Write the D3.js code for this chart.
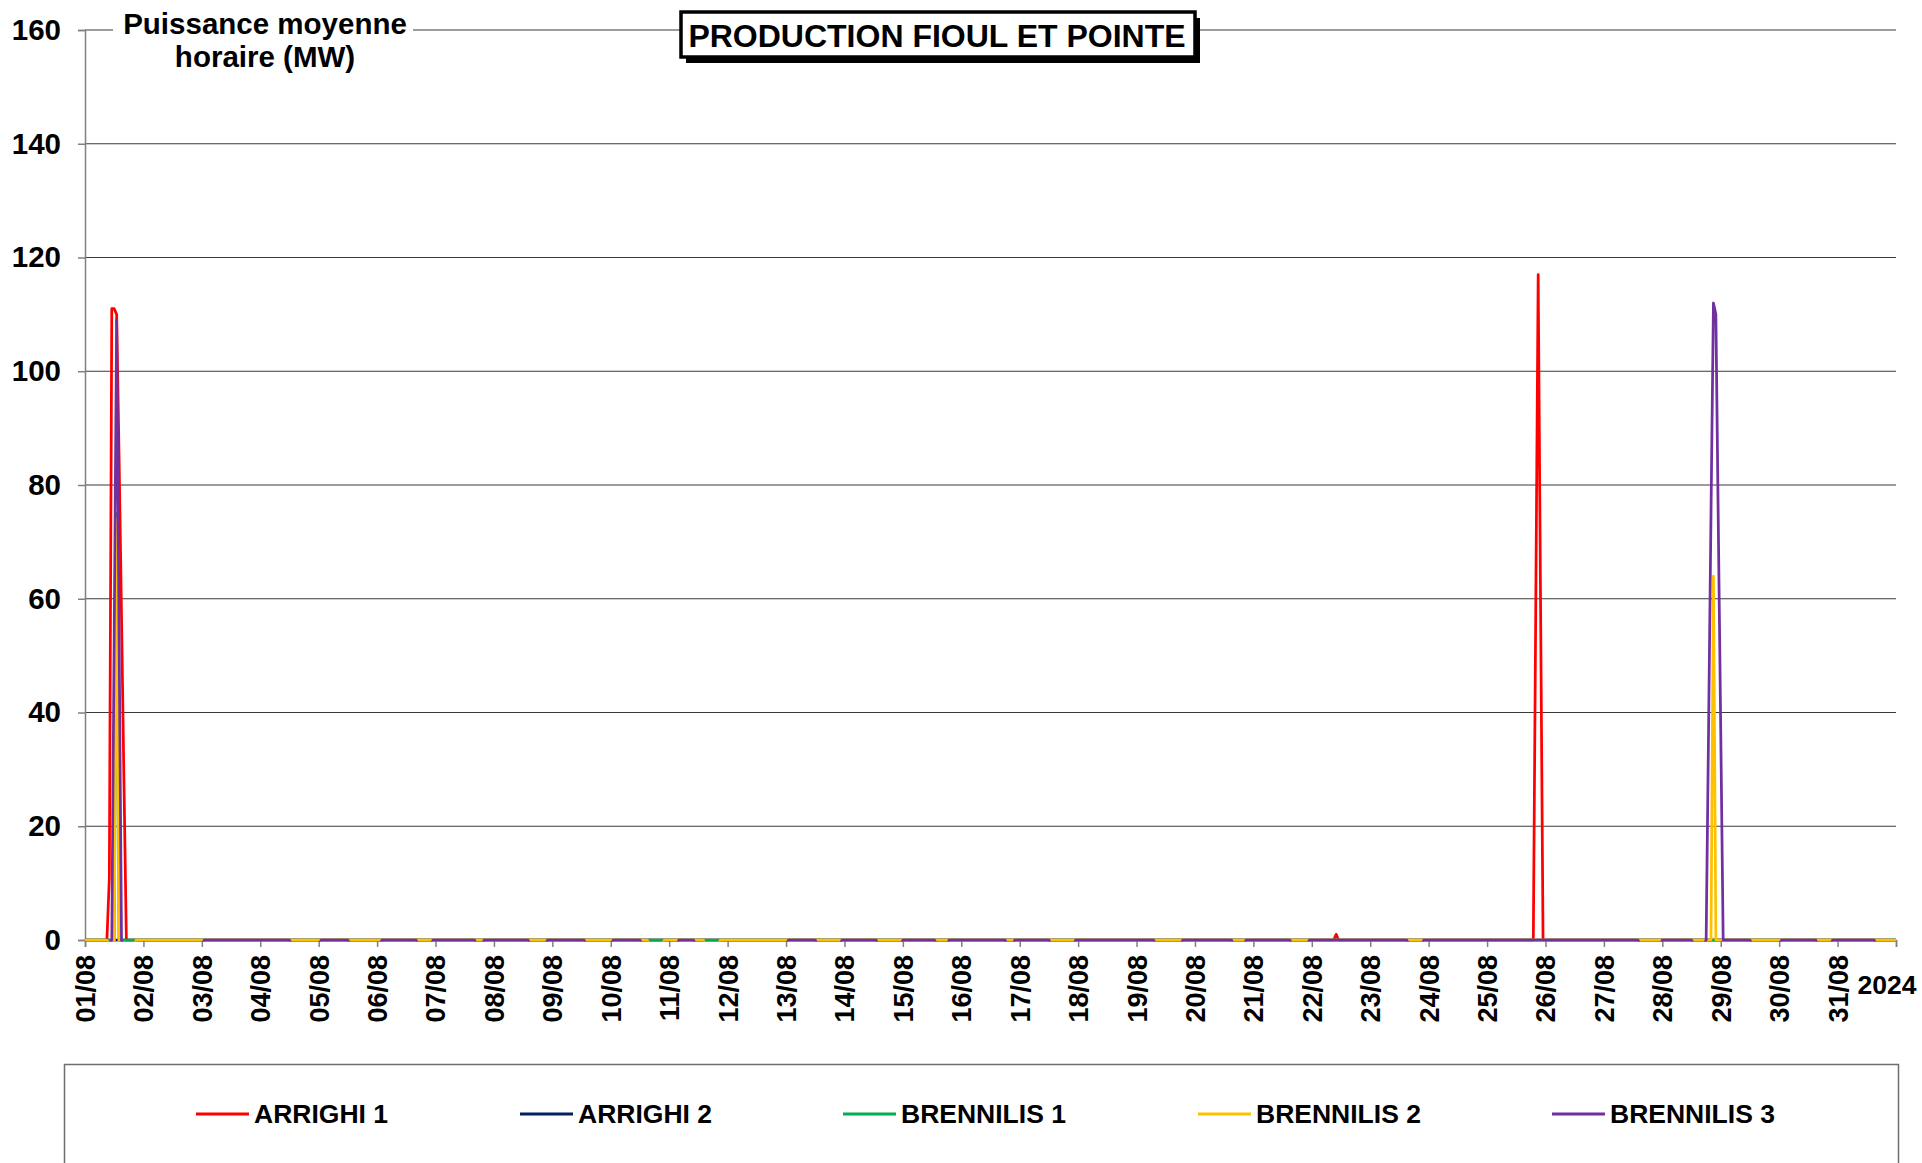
<!DOCTYPE html>
<html>
<head>
<meta charset="utf-8">
<script src="https://cdn.jsdelivr.net/npm/d3@7"></script>
<style>
  html, body { margin: 0; padding: 0; background: #fff; }
  svg { display: block; font-family: "Liberation Sans", Arial, sans-serif; font-weight: bold; }
</style>
</head>
<body>
<svg id="chart" width="1922" height="1163"></svg>
<script>
// ---- Data: hourly mean power (MW), August 2024; hour 0 = 01/08 00:00 ----
const dayLabels = ["01/08","02/08","03/08","04/08","05/08","06/08","07/08","08/08","09/08","10/08",
  "11/08","12/08","13/08","14/08","15/08","16/08","17/08","18/08","19/08","20/08",
  "21/08","22/08","23/08","24/08","25/08","26/08","27/08","28/08","29/08","30/08","31/08"];
const yearLabel = "2024";
const yTicks = [0, 20, 40, 60, 80, 100, 120, 140, 160];
const seriesNames = ["ARRIGHI 1", "ARRIGHI 2", "BRENNILIS 1", "BRENNILIS 2", "BRENNILIS 3"];
const seriesColors = ["#FF0000", "#002060", "#00B050", "#FFC000", "#7030A0"];

// [hour, MW] break points; the value holds between consecutive points
const arrighi1 = [[0,0],[9,0],[10,11],[11,111],[12,111],[13,110],[14,85],[15,57],[16,28],[17,0],
  [513,0],[514,1],[515,0],[595,0],[596,58],[597,117],[598,58],[599,0],[744,0]];
const arrighi2 = [[0,0],[744,0]];
const brennilis1 = [[0,0],[10,0],[11,-1],[12,-1],[13,75],[14,-1],[15,0],[744,0]];
const brennilis2 = [[0,0],[9,0],[10,-1],[12,-1],[13,74],[14,-1],[20,-1],[21,0],
  [231,0],[232,-1],[237,-1],[238,0],[254,0],[255,-1],[260,-1],[261,0],
  [668,0],[669,64],[670,0],[744,0]];
const brennilis3 = [[0,-1],[10,-1],[11,0],[12,54],[13,109],[14,54],[15,0],[16,-1],
  [48,-1],[49,0],[84,0],[85,-1],[96,-1],[97,0],[108,0],[109,-1],
  [121,-1],[122,0],[136,0],[137,-1],[142,-1],[143,0],[160,0],[161,-1],
  [163,-1],[164,0],[182,0],[183,-1],[189,-1],[190,0],[205,0],[206,-1],
  [216,-1],[217,0],[228,0],[229,-1],[243,-1],[244,0],[250,0],[251,-1],
  [288,-1],[289,0],[300,0],[301,-1],[310,-1],[311,0],[325,0],[326,-1],
  [335,-1],[336,0],[349,0],[350,-1],[354,-1],[355,0],[378,0],[379,-1],
  [381,-1],[382,0],[396,0],[397,-1],[406,-1],[407,0],[439,0],[440,-1],
  [450,-1],[451,0],[471,0],[472,-1],[476,-1],[477,0],[495,0],[496,-1],
  [502,-1],[503,0],[543,0],[544,-1],[549,-1],[550,0],[638,0],[639,-1],
  [647,-1],[648,0],[660,0],[661,-1],[665,-1],[666,0],[667,37],[668,75],[669,112],[670,110],
  [671,73],[672,37],[673,0],[684,0],[685,-1],[696,-1],[697,0],[711,0],[712,-1],
  [717,-1],[718,0],[735,0],[736,-1],[744,-1]];
const seriesData = [arrighi1, arrighi2, brennilis1, brennilis2, brennilis3];

// ---- Layout ----
const svg = d3.select("#chart");
const plot = { left: 85, right: 1896, top: 30, bottom: 940 };
const totalHours = dayLabels.length * 24;

const x = d3.scaleLinear().domain([0, totalHours]).range([plot.left, plot.right]);
const y = d3.scaleLinear().domain([0, 160]).range([plot.bottom, plot.top]);

svg.append("rect").attr("width", 1922).attr("height", 1163).attr("fill", "#fff");

// horizontal gridlines
svg.append("g")
  .selectAll("line")
  .data(yTicks.filter(v => v > 0))
  .join("line")
  .attr("x1", plot.left).attr("x2", plot.right)
  .attr("y1", d => y(d)).attr("y2", d => y(d))
  .attr("stroke", "#3a3a3a").attr("stroke-width", 1.2);

// y axis
const yAxis = svg.append("g")
  .attr("transform", `translate(${plot.left},0)`)
  .call(d3.axisLeft(y).tickValues(yTicks).tickSize(7).tickPadding(17).tickFormat(d3.format("d")));
yAxis.select(".domain").attr("stroke", "#808080").attr("stroke-width", 1.5);
yAxis.selectAll(".tick line").attr("stroke", "#808080").attr("stroke-width", 1.5);
yAxis.selectAll(".tick text")
  .attr("font-size", 29.5).attr("font-weight", "bold")
  .attr("font-family", "'Liberation Sans', Arial, sans-serif").attr("fill", "#000");

// x axis (day ticks)
const dayTicks = d3.range(0, totalHours + 1, 24);
const xAxis = svg.append("g")
  .attr("transform", `translate(0,${plot.bottom})`)
  .call(d3.axisBottom(x).tickValues(dayTicks).tickSize(7)
    .tickFormat(d => dayLabels[d / 24] || ""));
xAxis.select(".domain").attr("stroke", "#808080").attr("stroke-width", 1.5);
xAxis.selectAll(".tick line").attr("stroke", "#808080").attr("stroke-width", 1.5);
xAxis.selectAll(".tick text")
  .attr("font-size", 27).attr("font-weight", "bold")
  .attr("font-family", "'Liberation Sans', Arial, sans-serif").attr("fill", "#000")
  .attr("text-anchor", "end")
  .attr("transform", "rotate(-90)")
  .attr("x", -15).attr("y", 0).attr("dy", "0.35em");

svg.append("text")
  .attr("x", 1887).attr("y", 994)
  .attr("text-anchor", "middle").attr("font-size", 26.5)
  .text(yearLabel);

// series lines, clipped to the plot area
svg.append("clipPath").attr("id", "plotClip")
  .append("rect")
  .attr("x", plot.left).attr("y", 0)
  .attr("width", plot.right - plot.left + 2).attr("height", plot.bottom + 1.5);

const line = d3.line().x(d => x(d[0])).y(d => y(d[1]));
svg.append("g").attr("clip-path", "url(#plotClip)")
  .selectAll("path")
  .data(seriesData)
  .join("path")
  .attr("d", line)
  .attr("fill", "none")
  .attr("stroke", (d, i) => seriesColors[i])
  .attr("stroke-width", 2.75)
  .attr("stroke-linejoin", "round");

// y axis title on a white patch over the top gridline
svg.append("rect").attr("x", 113).attr("y", 8).attr("width", 300).attr("height", 70).attr("fill", "#fff");
const yTitle = svg.append("text").attr("text-anchor", "middle").attr("font-size", 29.5);
yTitle.append("tspan").attr("x", 265).attr("y", 34).text("Puissance moyenne");
yTitle.append("tspan").attr("x", 265).attr("y", 67).text("horaire (MW)");

// boxed chart title with drop shadow
const tb = { x: 681, y: 12, w: 514, h: 45 };
svg.append("rect").attr("x", tb.x + 5).attr("y", tb.y + 6).attr("width", tb.w).attr("height", tb.h).attr("fill", "#000");
svg.append("rect").attr("x", tb.x).attr("y", tb.y).attr("width", tb.w).attr("height", tb.h)
  .attr("fill", "#fff").attr("stroke", "#000").attr("stroke-width", 3.5);
svg.append("text").attr("x", tb.x + tb.w / 2 - 1).attr("y", tb.y + 35)
  .attr("text-anchor", "middle").attr("font-size", 32)
  .text("PRODUCTION FIOUL ET POINTE");

// legend
svg.append("rect").attr("x", 64.5).attr("y", 1064.5).attr("width", 1834).attr("height", 140)
  .attr("fill", "#fff").attr("stroke", "#6e6e6e").attr("stroke-width", 1.5);
const legendX = [196, 520, 843, 1198, 1552];
const legend = svg.append("g").selectAll("g").data(seriesNames).join("g")
  .attr("transform", (d, i) => `translate(${legendX[i]},1114)`);
legend.append("line").attr("x1", 0).attr("x2", 53).attr("y1", 0).attr("y2", 0)
  .attr("stroke", (d, i) => seriesColors[i]).attr("stroke-width", 3);
legend.append("text").attr("x", 58).attr("dy", "0.35em").attr("font-size", 26.5).text(d => d);
</script>
</body>
</html>
